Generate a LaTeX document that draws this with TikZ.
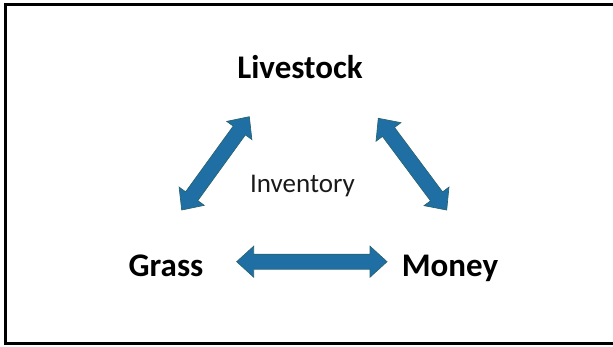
\documentclass[tikz,border=0pt]{standalone}
\usepackage{fontspec}
\setmainfont{Carlito}
\usepackage{tikz}
\usetikzlibrary{calc}

\definecolor{arrowblue}{RGB}{31,111,165}
\definecolor{arrowedge}{RGB}{40,100,112}

\begin{document}
\begin{tikzpicture}[x=1pt,y=-1pt,
    term/.style={font=\bfseries\fontsize{33}{36}\selectfont, anchor=base, inner sep=0pt},
    note/.style={font=\fontsize{27}{30}\selectfont, text=black!90, anchor=base, inner sep=0pt},
    bigarrow/.style={fill=arrowblue, draw=arrowedge, line width=0.7pt, line join=miter}]
                \useasboundingbox (0,0) rectangle (613,346);
                \draw[line width=2.8pt] (5.3,4.2) rectangle (625,343.5);
                % 文字
                \node[term] (livestock) at (300,78) {Livestock};
                \node[term] (grass) at (166,276) {Grass};
                \node[term] (money) at (450,276) {Money};
                \node[note] (inventory) at (302.5,192) {Inventory};
                % 箭头端点
                \coordinate (gl) at (181.7,210);
                \coordinate (lg) at (249.3,116.7);
                \coordinate (lm) at (378.3,118.3);
                \coordinate (ml) at (446.7,210);
                \coordinate (gm) at (236.7,261.7);
                \coordinate (mg) at (387,261.7);
                % 双向箭头
                \foreach \p/\q in {gl/lg, lm/ml, gm/mg}
                    \filldraw[bigarrow] (\p)
                        -- ($(\p)!17pt!(\q)!15.5pt!90:(\q)$)
                        -- ($(\p)!17pt!(\q)!7.5pt!90:(\q)$)
                        -- ($(\q)!17pt!(\p)!7.5pt!-90:(\p)$)
                        -- ($(\q)!17pt!(\p)!15.5pt!-90:(\p)$)
                        -- (\q)
                        -- ($(\q)!17pt!(\p)!15.5pt!90:(\p)$)
                        -- ($(\q)!17pt!(\p)!7.5pt!90:(\p)$)
                        -- ($(\p)!17pt!(\q)!7.5pt!-90:(\q)$)
                        -- ($(\p)!17pt!(\q)!15.5pt!-90:(\q)$)
                        -- cycle;
            \end{tikzpicture}
\end{document}
